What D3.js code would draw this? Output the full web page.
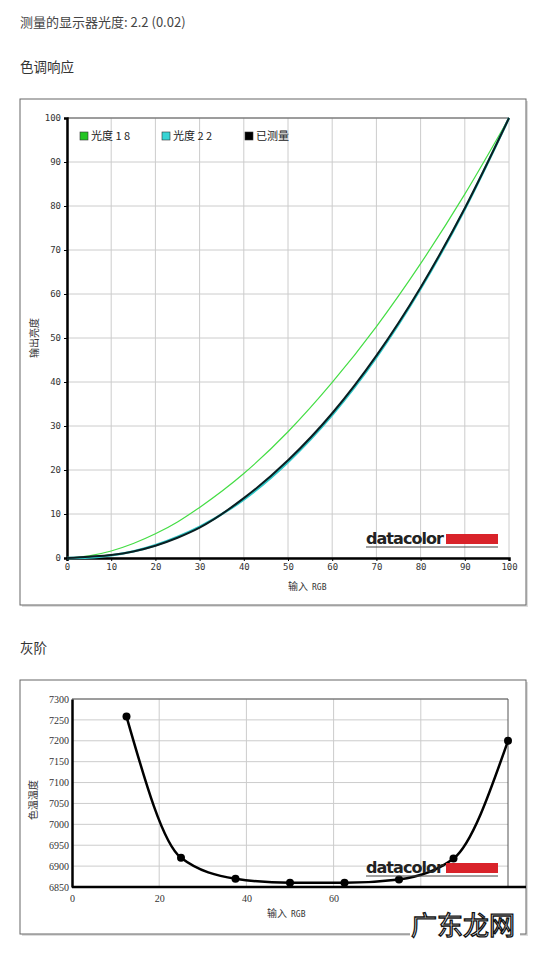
<!DOCTYPE html>
<html><head><meta charset="utf-8">
<script src="https://cdn.jsdelivr.net/npm/d3@7"></script>
<style>
body{margin:0;background:#fff;font-family:"Noto Sans CJK SC","Noto Sans",sans-serif;}
</style></head>
<body><svg id="c" width="547" height="954"></svg>
<script>
// tone response data (input RGB %, output %)
const toneX = [0, 5, 10, 15, 20, 25, 30, 40, 50, 60, 70, 80, 90, 100];
const gamma18 = [0, 0.5, 1.6, 3.3, 5.5, 8.2, 11.5, 19.2, 28.7, 39.9, 52.6, 66.9, 82.7, 100];
const gamma22 = [0, 0.1, 0.6, 1.5, 2.9, 4.8, 7.1, 13.3, 21.8, 32.5, 45.6, 61.2, 79.3, 100];
const measured = [0, 0.3, 0.7, 1.5, 2.8, 4.6, 6.9, 13.6, 22.2, 32.9, 46.0, 61.5, 79.5, 100];
const toneTicks = [0, 10, 20, 30, 40, 50, 60, 70, 80, 90, 100];
const legendNames = ['光度 1 8', '光度 2 2', '已测量'];
const legendColors = ['#22c422', '#38d4d4', '#000'];

// grayscale colour temperature
const grayX = [12.5, 25, 37.5, 50, 62.5, 75, 87.5, 100];
const grayK = [7258, 6920, 6870, 6860, 6860, 6868, 6918, 7200];
const grayYTicks = [6850, 6900, 6950, 7000, 7050, 7100, 7150, 7200, 7250, 7300];
const grayXTicks = [0, 20, 40, 60];

const svg = d3.select('#c');
const txt = (x, y, s, size, fill) => svg.append('text').attr('x', x).attr('y', y)
  .attr('font-size', size).attr('fill', fill || '#333').text(s);

txt(20, 27, '测量的显示器光度: 2.2 (0.02)', 13, '#444');
txt(20, 72, '色调响应', 13.5, '#333');
txt(20, 653, '灰阶', 13.5, '#333');

function frame(x0, y0, x1, y1) {
  svg.append('rect').attr('x', x0 + 2).attr('y', y0 + 2).attr('width', x1 - x0).attr('height', y1 - y0).attr('fill', '#ddd');
  svg.append('rect').attr('x', x0).attr('y', y0).attr('width', x1 - x0).attr('height', y1 - y0)
    .attr('fill', '#fff').attr('stroke', '#666').attr('stroke-width', 1);
}
function logo(x, y) {
  const g = svg.append('g').attr('transform', `translate(${x},${y})`);
  g.append('text').attr('x', 0).attr('y', 14).attr('font-family', 'DejaVu Sans, sans-serif').attr('font-weight', 'bold')
    .attr('font-size', 16).attr('textLength', 78).attr('fill', '#222').text('datacolor');
  g.append('rect').attr('x', 80).attr('y', 4).attr('width', 52).attr('height', 10).attr('fill', '#d9232a');
  g.append('line').attr('x1', 0).attr('x2', 132).attr('y1', 17).attr('y2', 17).attr('stroke', '#444').attr('stroke-width', 1.2);
}
const tickFont = 'DejaVu Sans Mono, monospace';

// ---- top chart ----
frame(20, 99, 526, 605);
{
  const x = d3.scaleLinear().domain([0, 100]).range([67, 509]);
  const y = d3.scaleLinear().domain([0, 100]).range([558, 118]);
  const g = svg.append('g');
  g.selectAll('.vx').data(toneTicks).join('line').attr('x1', d => x(d)).attr('x2', d => x(d))
    .attr('y1', y(0)).attr('y2', y(100)).attr('stroke', '#ccc');
  g.selectAll('.hy').data(toneTicks).join('line').attr('y1', d => y(d)).attr('y2', d => y(d))
    .attr('x1', x(0)).attr('x2', x(100)).attr('stroke', '#ccc');
  g.append('line').attr('x1', x(0)).attr('x2', x(100)).attr('y1', y(100)).attr('y2', y(100)).attr('stroke', '#555');
  const ax = g.append('g').attr('transform', `translate(0,${y(0)})`).call(d3.axisBottom(x).tickValues(toneTicks).tickSize(3));
  const ay = g.append('g').attr('transform', `translate(${x(0)},0)`).call(d3.axisLeft(y).tickValues(toneTicks).tickSize(3));
  [ax, ay].forEach(a => { a.select('.domain').attr('stroke-width', 2.5); a.selectAll('text').attr('font-size', 9).attr('font-family', tickFont).attr('fill', '#333'); });
  const line = d3.line().x((d, i) => x(toneX[i])).y(d => y(d)).curve(d3.curveMonotoneX);
  g.append('path').attr('d', line(gamma18)).attr('fill', 'none').attr('stroke', '#44dd44').attr('stroke-width', 1.2);
  g.append('path').attr('d', line(gamma22)).attr('fill', 'none').attr('stroke', '#30c8c8').attr('stroke-width', 2.4);
  g.append('path').attr('d', line(measured)).attr('fill', 'none').attr('stroke', '#0a1f22').attr('stroke-width', 2);
  const lx = [80, 162, 245];
  legendNames.forEach((n, i) => {
    g.append('rect').attr('x', lx[i]).attr('y', 132).attr('width', 8).attr('height', 8).attr('fill', legendColors[i]).attr('stroke', '#333').attr('stroke-width', 0.6);
    g.append('text').attr('x', lx[i] + 11).attr('y', 140).attr('font-size', 11).attr('fill', '#222').text(n);
  });
  txt(288, 590, '输入', 10, '#333'); txt(312, 590, 'RGB', 8, '#333').attr('font-family', tickFont);
  svg.append('text').attr('transform', 'translate(38,338) rotate(-90)').attr('text-anchor', 'middle')
    .attr('font-size', 10).attr('fill', '#333').text('输出亮度');
  logo(366, 530);
}

// ---- bottom chart ----
frame(20, 680, 526, 934);
{
  const x = d3.scaleLinear().domain([0, 100]).range([72, 508]);
  const y = d3.scaleLinear().domain([6850, 7300]).range([887, 699]);
  const g = svg.append('g');
  g.selectAll('.vx').data([20, 40, 60, 80]).join('line').attr('x1', d => x(d)).attr('x2', d => x(d))
    .attr('y1', y(6850)).attr('y2', y(7300)).attr('stroke', '#ccc');
  g.selectAll('.hy').data(grayYTicks).join('line').attr('y1', d => y(d)).attr('y2', d => y(d))
    .attr('x1', x(0)).attr('x2', x(100)).attr('stroke', '#ccc');
  g.append('line').attr('x1', x(0)).attr('x2', x(100)).attr('y1', y(7300)).attr('y2', y(7300)).attr('stroke', '#555');
  g.append('line').attr('x1', x(100)).attr('x2', x(100)).attr('y1', y(7300)).attr('y2', y(6850)).attr('stroke', '#555');
  const ax = g.append('g').attr('transform', `translate(0,${y(6850)})`).call(d3.axisBottom(x).tickValues(grayXTicks).tickSize(0).tickPadding(8));
  ax.select('.domain').attr('d', `M${x(0)},0H526`);
  const ay = g.append('g').attr('transform', `translate(${x(0)},0)`).call(d3.axisLeft(y).tickValues(grayYTicks).tickFormat(d3.format('d')).tickSize(0).tickPadding(3));
  [ax, ay].forEach(a => { a.select('.domain').attr('stroke-width', 2.5); a.selectAll('text').attr('font-size', 10).attr('font-family', 'Liberation Serif, serif').attr('fill', '#333'); });
  const line = d3.line().x((d, i) => x(grayX[i])).y(d => y(d)).curve(d3.curveMonotoneX);
  g.append('path').attr('d', line(grayK)).attr('fill', 'none').attr('stroke', '#000').attr('stroke-width', 2.5);
  g.selectAll('circle').data(grayK).join('circle').attr('cx', (d, i) => x(grayX[i])).attr('cy', d => y(d))
    .attr('r', 4).attr('fill', '#000');
  txt(267, 917, '输入', 10, '#333'); txt(291, 917, 'RGB', 8, '#333').attr('font-family', tickFont);
  svg.append('text').attr('transform', 'translate(37,800) rotate(-90)').attr('text-anchor', 'middle')
    .attr('font-size', 10).attr('fill', '#333').text('色温温度');
  logo(366, 859);
}
// watermark
svg.append('rect').attr('x', 410).attr('y', 906).attr('width', 110).attr('height', 34).attr('fill', '#fff');
svg.append('text').attr('x', 411).attr('y', 935).attr('font-size', 26).attr('fill', '#fff')
  .attr('stroke', '#111').attr('stroke-width', 1.3).text('广东龙网');
</script></body></html>
